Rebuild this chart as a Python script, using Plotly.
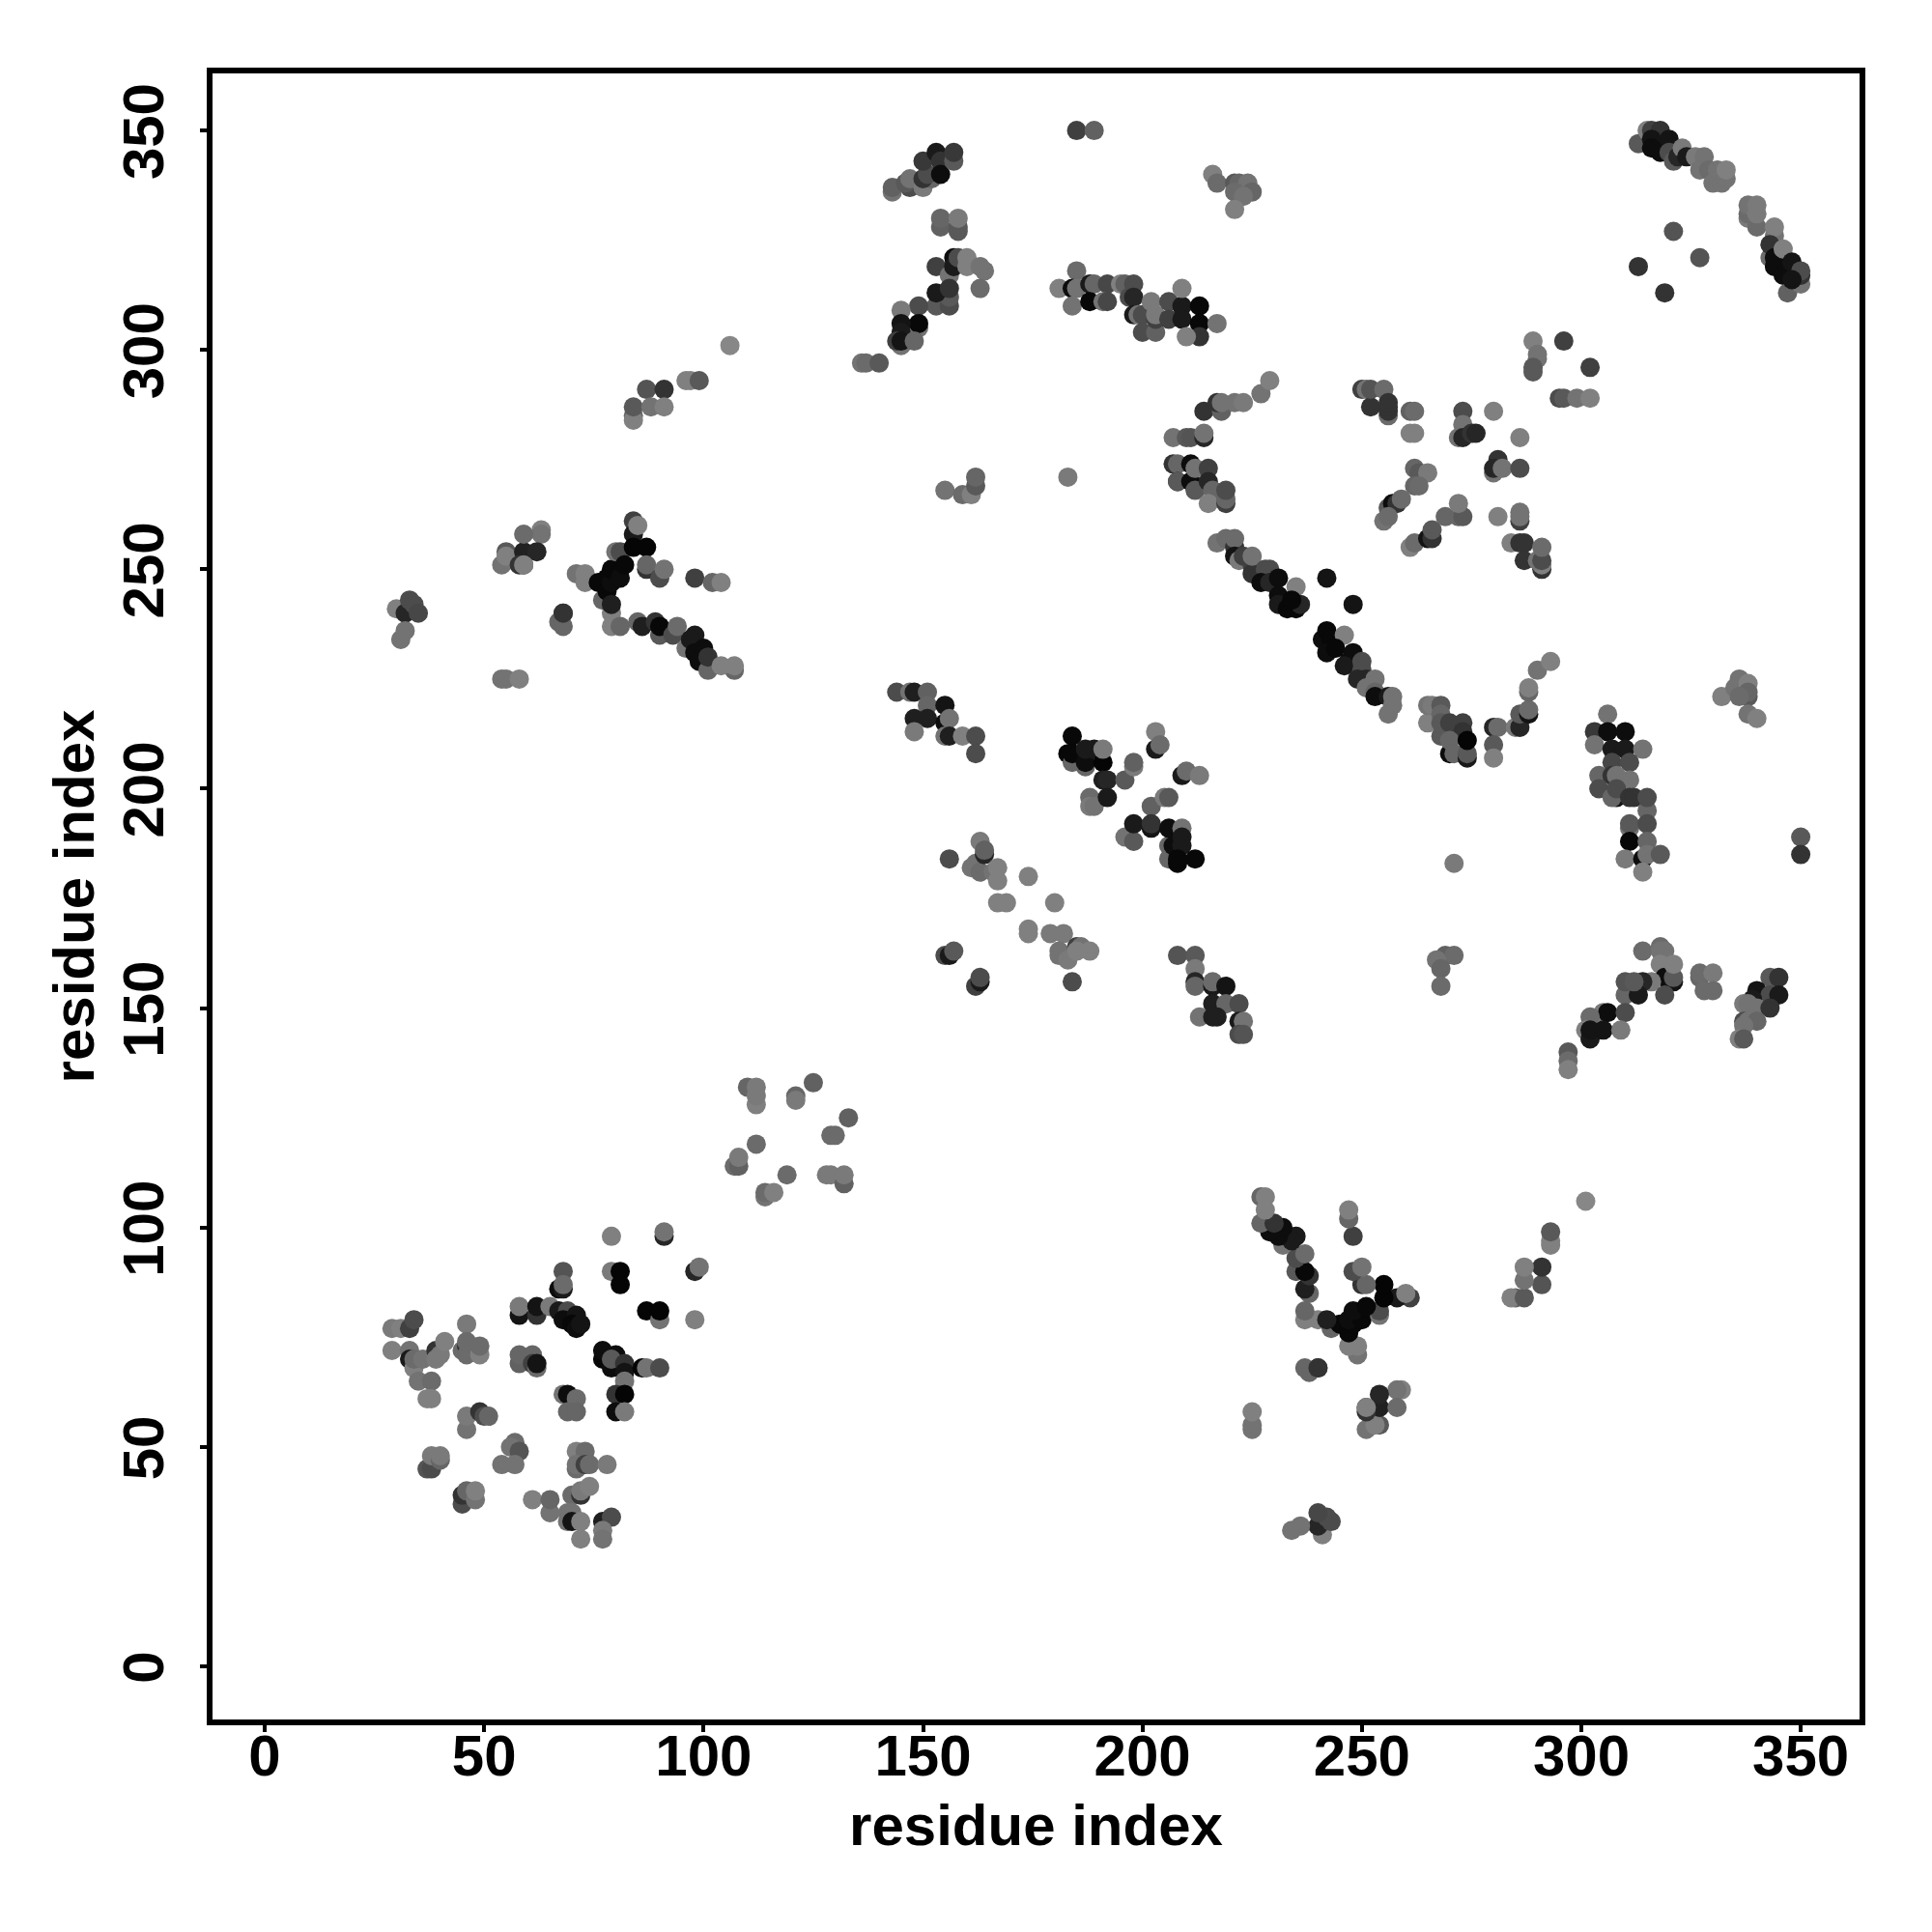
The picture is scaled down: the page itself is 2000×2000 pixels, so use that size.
import plotly.graph_objects as go

# contact triples: residue i, residue j, grey level of the point (0 black .. 1 white)
far_upper_left = [(106,301,.53),(96,293,.5),(97,293,.5),(99,293,.35),(87,291,.33),(91,291,.2),(84,285,.4),(84,284,.5),(84,287,.35),(88,287,.45),(91,287,.5),
 (30,241,.5),(32,240,.15),(33,243,.3),(34,242,.3),(35,240,.28),(32,236,.45),(31,234,.45),(54,225,.45),(55,225,.45),(58,225,.5)]
strand_250 = [(63,259,.5),(63,258,.45),(55,254,.35),(54,251,.45),(55,253,.5),(59,251,.2),(59,254,.13),(62,254,.15),(59,258,.42),(58,251,.2),(59,251,.5),
 (68,240,.2),(67,238,.4),(68,237,.4),(68,240,.2),(71,249,.45),(73,249,.5),(73,247,.5),(77,243,.4),(76,247,.03),(78,245,.03),(78,248,.03),(79,247,.05),(79,250,.03),(81,248,.05),
 (80,254,.45),(81,254,.3),(82,251,.03),(84,261,.25),(84,258,.1),(84,255,.02),(87,255,.02),(85,260,.5),(79,240,.5),(79,237,.5),(79,242,.12),(81,237,.4),
 (87,250,.2),(87,251,.4),(90,248,.3),(91,250,.45),(98,248,.25),(102,247,.4),(104,247,.5)]
strand_235 = [(85,238,.4),(86,237,.12),(89,238,.2),(90,235,.35),(90,237,.03),(93,235,.3),(94,237,.42),(98,235,.1),(96,232,.45),(97,234,.1),(98,231,.05),(100,232,.05),(99,229,.05),
 (101,227,.4),(101,230,.2),(107,227,.4),(104,228,.5),(107,228,.5)]
upper_150 = [(143,336,.45),(143,337,.38),(147,337,.3),(146,338,.35),(147,339,.45),(150,337,.48),(152,339,.4),(150,339,.2),(151,340,.3),(150,343,.22),(153,345,.1),(154,343,.2),(154,340,.05),(157,343,.35),(157,345,.22),
 (154,328,.38),(154,330,.4),(158,327,.35),(158,328,.35),(158,330,.48),(153,319,.25),(156,317,.45),(157,321,.05),(157,319,.1),(158,321,.3),(160,321,.5),(160,319,.5),(163,319,.45),(164,318,.45),(163,314,.42),
 (153,310,.35),(156,310,.3),(156,312,.35),(153,313,.1),(156,314,.2),(149,310,.3),(145,309,.48),(149,305,.45),(149,306,.03),(145,306,.08),(145,304,.1),(145,301,.45),(144,302,.25),(145,302,.08),(148,302,.4),
 (136,297,.45),(137,297,.42),(140,297,.35)]
top_185 = [(185,350,.25),(189,350,.38),(181,314,.5),(185,318,.42),(184,314,.05),(185,314,.45),(184,310,.45),(188,315,.1),(189,315,.4),(188,311,.03),(192,315,.28),(191,311,.45),(192,311,.28),
 (195,315,.5),(196,315,.38),(198,315,.3),(197,312,.3),(198,312,.15),(198,308,.1),(199,308,.45),(200,308,.3),(200,304,.3),(203,304,.38),(203,307,.25),(202,311,.48),(203,308,.48),(206,311,.3),(206,307,.25),
 (209,310,.1),(209,307,.1),(209,314,.5),(213,310,.03),(213,306,.03),(217,306,.45),(213,303,.2),(210,303,.5),
 (216,340,.5),(217,338,.42),(221,338,.35),(222,338,.4),(224,338,.45),(225,336,.4),(221,336,.42),(223,335,.45),(221,332,.5)]
upper_215 = [(214,286,.2),(218,286,.38),(217,288,.2),(218,288,.45),(221,288,.45),(223,288,.48),(227,290,.45),(229,293,.5),
 (207,280,.45),(210,280,.35),(211,280,.33),(214,280,.15),(214,281,.45),(207,274,.2),(208,274,.4),(208,270,.1),(208,270,.35),(211,274,.05),(211,270,.05),(212,268,.35),(212,273,.45),(215,273,.25),(215,270,.15),(216,268,.4),(215,265,.5),(219,265,.25),(219,266,.4),(219,268,.3),
 (155,268,.45),(159,267,.42),(161,267,.5),(162,269,.35),(162,271,.4),(183,271,.48)]
main_chain = [(217,256,.45),(219,257,.42),(221,255,.2),(221,257,.42),(221,253,.08),(222,252,.48),(223,253,.25),(225,251,.25),(225,249,.2),(225,253,.45),(228,250,.3),(229,250,.3),(227,247,.05),(229,247,.15),(231,248,.05),(235,246,.5),
 (231,244,.05),(231,242,.1),(233,241,.03),(235,241,.03),(236,242,.15),(242,248,.08),(248,242,.08),(241,234,.05),(242,236,.03),(243,234,.03),(246,235,.5),(242,231,.05),(244,232,.03),(248,231,.05),(247,229,.05),(246,228,.1),(250,229,.3),(250,227,.3),
 (249,225,.15),(251,225,.15),(251,223,.45),(253,225,.45),(253,222,.4),(253,221,.05),(256,221,.1),(256,217,.45),(257,219,.45),(257,221,.45)]
lower_265 = [(265,215,.5),(265,219,.45),(266,219,.48),(268,219,.35),(268,217,.4),(268,212,.35),(268,215,.35),(270,215,.25),(273,215,.25),(273,213,.2),(270,208,.05),(270,211,.4),(271,208,.4),(274,207,.1),(274,208,.35),(274,211,.02),
 (280,214,.15),(281,214,.42),(280,210,.35),(280,207,.5),(285,214,.48),(286,214,.15),(286,217,.35),(288,217,.08),(288,218,.42),(288,222,.4),(288,223,.5),(290,227,.45),(293,229,.5)]
cross_273 = [(250,291,.25),(251,291,.45),(252,287,.2),(252,291,.33),(255,291,.42),(256,285,.42),(256,286,.2),(256,287,.2),(256,288,.2),(261,286,.38),(262,286,.42),(261,281,.5),(262,281,.5),
 (273,286,.3),(272,280,.45),(273,283,.45),(273,280,.15),(275,281,.2),(276,281,.15),(280,286,.5),(286,280,.5),(281,275,.2),(280,272,.45),(280,273,.15),(282,273,.45),(286,273,.3),
 (281,262,.5),(286,261,.25),(286,263,.45),(286,262,.45),(284,256,.5),(286,256,.2),(287,256,.2),(287,252,.2),(291,250,.2),(291,251,.5),(290,252,.45),(291,252,.3),(291,255,.42),
 (262,273,.4),(263,272,.35),(265,272,.48),(262,269,.4),(263,269,.42),(256,264,.35),(257,265,.05),(258,265,.2),(259,266,.42),(255,261,.45),(256,262,.42),
 (261,255,.5),(262,256,.42),(265,257,.08),(266,257,.2),(266,259,.35),(269,262,.4),(272,262,.4),(273,262,.35),(272,265,.48),
 (289,302,.5),(290,299,.45),(290,298,.45),(289,296,.35),(289,295,.35),(302,296,.25),(295,289,.3),(296,289,.35),(299,289,.45),(302,289,.5)]
column_310 = [(306,217,.45),(303,213,.22),(306,213,.05),(310,213,.05),(303,210,.45),(307,209,.1),(310,209,.1),(314,209,.45),(307,206,.28),(311,206,.3),(304,203,.4),(307,203,.2),(308,203,.45),(311,202,.45),(304,200,.3),(308,198,.08),(307,198,.4),(308,200,.3),
 (311,198,.2),(312,198,.2),(315,195,.4),(315,198,.3),(311,191,.45),(311,192,.35),(315,192,.3),(311,188,.03),(315,188,.4),(310,184,.48),(314,184,.05),(315,185,.45),(318,185,.35),(314,181,.5),
 (332,221,.5),(336,225,.45),(335,223,.45),(338,224,.5),(338,221,.35),(338,222,.4),(338,217,.45),(340,216,.5),(350,189,.35),(350,185,.2),(271,183,.48)]
row_155 = [(269,162,.38),(271,162,.42),(267,161,.45),(268,159,.4),(268,155,.42),(314,163,.42),(318,164,.42),(318,163,.45),(319,163,.45),(318,160,.5),(319,157,.05),(321,156,.08),(321,157,.35),(321,160,.5),(316,156,.48),(319,153,.3),
 (314,156,.15),(310,153,.4),(310,156,.33),(313,153,.1),(305,149,.48),(306,149,.05),(310,149,.3),(302,148,.42),(301,145,.5),(302,143,.1),(302,145,.08),(305,145,.08),(309,145,.48),(297,140,.35),(297,138,.42),(297,136,.5),
 (327,157,.4),(327,158,.42),(330,158,.48),(328,154,.42),(330,154,.42),(343,157,.35),(345,157,.2),(340,154,.08),(343,153,.3),(345,153,.1),(339,152,.1),(337,151,.48),(338,151,.45),(340,150,.45),(343,150,.2),(337,147,.3),(338,147,.45),(340,147,.4),(337,146,.45),(336,143,.5),(337,143,.35)]
middle_200 = [(144,222,.3),(147,222,.45),(148,222,.12),(151,222,.38),(151,219,.4),(155,219,.08),(148,216,.12),(151,216,.12),(155,215,.05),(156,216,.45),(148,213,.48),(155,212,.45),(156,212,.12),(159,212,.5),(162,212,.3),(162,208,.3),
 (184,212,.03),(183,208,.03),(184,206,.4),(184,208,.03),(187,205,.4),(187,206,.05),(187,209,.1),(189,209,.1),(191,206,.02),(191,209,.48),(191,202,.12),(192,202,.15),(196,202,.35),(198,205,.48),(198,206,.38),(188,198,.42),(188,196,.48),(189,196,.45),(192,198,.1),
 (203,213,.5),(203,209,.1),(204,210,.42),(209,203,.1),(210,204,.42),(213,203,.48),(202,196,.38),(205,198,.48),(206,198,.35),
 (196,189,.45),(198,188,.35),(198,192,.1),(202,191,.08),(202,192,.2),(206,187,.4),(206,184,.4),(206,191,.05),(207,187,.05),(209,187,.1),(209,191,.45),(208,183,.03),(208,184,.03),(212,184,.03)]
middle_170 = [(156,184,.3),(163,188,.48),(161,182,.45),(162,183,.45),(163,181,.42),(164,185,.15),(164,186,.38),(166,181,.45),(167,182,.5),(167,179,.5),(174,180,.5),(167,174,.5),(169,174,.5),(180,174,.5),(174,168,.5),(174,167,.5),
 (179,167,.48),(182,167,.48),(181,163,.45),(181,162,.45),(183,161,.48),(185,164,.25),(186,164,.45),(185,163,.5),(188,163,.5),(184,156,.3),(155,162,.3),(156,162,.1),(157,163,.35),(162,155,.25),(163,156,.1),(163,157,.3),
 (208,162,.33),(212,162,.35),(212,159,.48),(212,156,.15),(212,155,.4),(216,155,.1),(216,156,.42),(219,155,.08),(216,151,.12),(219,151,.4),(222,151,.3),(213,148,.45),(216,148,.12),(217,148,.12),(222,147,.1),(223,147,.45),(222,144,.3),(223,144,.33)]
lower_left_120 = [(110,132,.4),(112,128,.5),(112,130,.48),(112,132,.48),(121,130,.4),(121,129,.48),(125,133,.38),(133,125,.38),(129,121,.42),(130,121,.42),(112,119,.42),(107,114,.42),(108,114,.38),(108,116,.48),(119,112,.42),(128,112,.48),(129,112,.48),(132,110,.38),(132,112,.48),(114,107,.45),(114,108,.42),(116,108,.5)]
lower_left_80 = [(91,98,.15),(91,99,.45),(79,98,.5),(79,90,.48),(81,90,.02),(81,87,.02),(98,90,.15),(99,91,.45),(87,81,.02),(90,79,.45),(90,81,.02),(98,79,.5),
 (68,90,.33),(67,86,.05),(68,86,.1),(68,87,.42),(58,80,.08),(58,82,.48),(62,80,.2),(62,82,.08),(65,82,.48),(67,81,.1),(69,81,.3),(68,79,.05),(71,80,.08),(70,78,.03),(71,77,.05),(72,78,.08),
 (77,70,.03),(77,72,.05),(80,71,.05),(79,68,.05),(79,70,.35),(82,69,.2),(82,67,.08),(86,68,.02),(87,68,.45),(90,68,.3),(82,65,.45),(80,62,.2),(82,62,.02),(80,58,.05),(82,58,.48),
 (58,69,.38),(58,71,.4),(61,71,.4),(61,69,.25),(62,68,.42),(62,69,.08),(68,62,.45),(69,62,.05),(71,61,.42),(69,58,.4),(71,58,.4)]
lower_left_50 = [(29,77,.48),(31,77,.5),(33,77,.25),(34,79,.3),(29,72,.5),(33,72,.45),(33,70,.1),(34,68,.5),(34,70,.42),(36,70,.45),(35,65,.45),(38,65,.42),(37,61,.5),(38,61,.5),(39,72,.2),(39,70,.48),(40,71,.48),(41,74,.5),
 (46,78,.48),(45,72,.42),(46,73,.2),(46,71,.42),(46,74,.42),(49,71,.5),(49,73,.42),(46,54,.45),(46,57,.48),(49,58,.2),(50,57,.3),(51,57,.4),(57,51,.42),(56,50,.45),(58,49,.33),(54,46,.45),(57,46,.45),
 (71,49,.5),(73,49,.42),(71,45,.42),(71,46,.45),(73,46,.25),(74,46,.42),(78,46,.48),(37,45,.33),(38,45,.3),(38,48,.48),(40,47,.4),(40,48,.48),(45,37,.3),(45,39,.2),(46,40,.4),(48,38,.45),(48,40,.5),
 (61,38,.5),(65,35,.45),(65,38,.4),(70,39,.42),(72,39,.2),(72,40,.48),(74,41,.5),(69,35,.45),(69,33,.45),(70,35,.45),(70,33,.08),(72,33,.5),(72,29,.5),(77,33,.12),(79,34,.3),(77,31,.48),(77,29,.45)]
top_right_chain = [(313,347,.35),(315,350,.5),(316,350,.25),(318,350,.2),(316,348,.08),(316,346,.05),(318,345,.05),(320,348,.08),(320,345,.3),(321,343,.35),(322,344,.15),(323,346,.48),(324,344,.1),(326,344,.48),(328,344,.45),(327,341,.45),(329,341,.42),(330,338,.45),(332,338,.45),(331,341,.45),(333,339,.45),(333,341,.5),
 (338,330,.48),(338,331,.42),(338,333,.45),(340,328,.42),(340,331,.48),(340,333,.48),(344,326,.45),(344,328,.5),(343,321,.42),(343,324,.2),(344,319,.05),(344,321,.05),(346,323,.5),(346,317,.05),(348,320,.08),(347,313,.38),(350,315,.45),(350,317,.2),(350,318,.3),
 (321,327,.33),(327,321,.33),(313,319,.2),(319,313,.2)]

tick_values = [0, 50, 100, 150, 200, 250, 300, 350]
axis_label = "residue index"

read_points = (lower_left_50 + lower_left_80 + lower_left_120 + far_upper_left + strand_250 + strand_235 + upper_150 + top_185
               + upper_215 + main_chain + lower_265 + cross_273 + column_310 + row_155 + middle_200 + middle_170 + top_right_chain)

# the contact map is symmetric: add the mirror of a contact unless that side was read too
mirrored = []
for a, b, g in read_points:
    if not any(abs(p - b) <= 1 and abs(q - a) <= 1 for p, q, _ in read_points):
        mirrored.append((b, a, g))
points = read_points + mirrored

fig = go.Figure(go.Scatter(
    x=[p[0] for p in points], y=[p[1] for p in points], mode="markers", cliponaxis=True,
    marker=dict(size=20, color=[f"rgb({round(p[2]*255)},{round(p[2]*255)},{round(p[2]*255)})" for p in points], line=dict(width=0), opacity=1),
    hoverinfo="skip", showlegend=False))

font = dict(family="Liberation Sans", size=60, color="black", weight="bold")
common = dict(tickmode="array", tickvals=tick_values, ticktext=[str(t) for t in tick_values], showgrid=False, zeroline=False,
              showline=True, mirror=True, linewidth=6, linecolor="black", ticks="outside", ticklen=7, tickwidth=4, tickcolor="black", tickfont=font)
fig.update_xaxes(range=[-11.9, 363.4], title=dict(text=axis_label, font=font, standoff=20), ticklabelstandoff=-27, **common)
fig.update_yaxes(range=[-12.1, 363.0], tickangle=-90, title=dict(text=axis_label, font=font, standoff=0), ticklabelstandoff=14, ticklabelshift=10, **common)
fig.update_layout(width=2000, height=2000, autosize=False, paper_bgcolor="white", plot_bgcolor="white",
                  margin=dict(l=220, r=75, t=76, b=220, pad=0))
fig.write_html("out.html", post_script="document.body.style.margin='0';", config=dict(displayModeBar=False))
